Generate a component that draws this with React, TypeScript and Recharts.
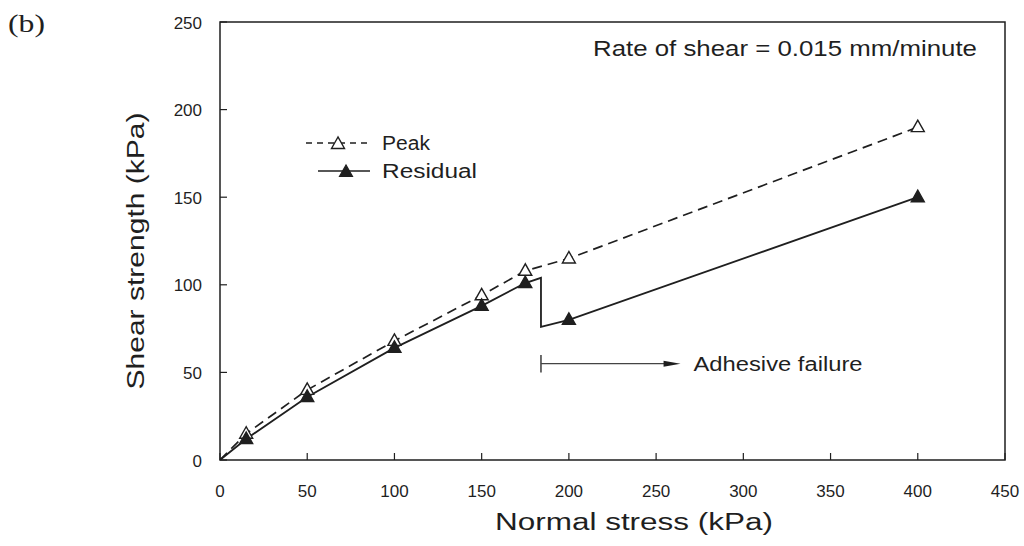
import { Line, LineChart, ReferenceArea, ReferenceLine, XAxis, YAxis } from "recharts";

// Normal stress (kPa) vs shear strength (kPa)
const peakStress = [0, 15, 50, 100, 150, 175, 200, 400];
const peakStrength = [0, 15, 40, 68, 94, 108, 115, 190];
const peakMeasured = [false, true, true, true, true, true, true, true];

// residual curve drops at the adhesive failure point (~184 kPa)
const residualStress = [0, 15, 50, 100, 150, 175, 184, 184, 200, 400];
const residualStrength = [0, 12, 36, 64, 88, 101, 104, 76, 80, 150];
const residualMeasured = [false, true, true, true, true, true, false, false, true, true];

const xTicks = [0, 50, 100, 150, 200, 250, 300, 350, 400, 450];
const yTicks = [0, 50, 100, 150, 200, 250];

const failureStart = 184;
const failureEnd = 264;
const failureLevel = 55;

const INK = "#1f1f1f";
const FONT = '"Liberation Sans", Arial, sans-serif';

const peakData = peakStress.map((x, i) => ({ x, y: peakStrength[i], m: peakMeasured[i] }));
const residualData = residualStress.map((x, i) => ({
  x,
  y: residualStrength[i],
  m: residualMeasured[i],
}));

function triangle(cx: number, cy: number) {
  return `M${cx},${cy - 7} L${cx - 6.5},${cy + 4.5} L${cx + 6.5},${cy + 4.5} Z`;
}

const makeDot = (open: boolean) => (props: any) => {
  const { cx, cy, payload, index } = props;
  if (!payload?.m) return <g key={`d-${index}`} />;
  return (
    <path
      key={`d-${index}`}
      d={triangle(cx, cy)}
      fill={open ? "#fff" : INK}
      stroke={INK}
      strokeWidth={1.4}
    />
  );
};

const tickText = { fontSize: 17, fontFamily: FONT, fill: INK };

function BottomTick({ x, y, payload }: any) {
  return (
    <g>
      <line x1={x} y1={y} x2={x} y2={y - 7} stroke={INK} strokeWidth={1.2} />
      <text x={x} y={y + 31} textAnchor="middle" dominantBaseline="central" {...tickText}>
        {payload.value}
      </text>
    </g>
  );
}

function LeftTick({ x, y, payload }: any) {
  return (
    <g>
      <line x1={x} y1={y} x2={x + 7} y2={y} stroke={INK} strokeWidth={1.2} />
      <text x={x - 18} y={y + 1} textAnchor="end" dominantBaseline="central" {...tickText}>
        {payload.value}
      </text>
    </g>
  );
}

function TopTick({ x, y }: any) {
  return <line x1={x} y1={y} x2={x} y2={y + 7} stroke={INK} strokeWidth={1.2} />;
}

function RightTick({ x, y }: any) {
  return <line x1={x} y1={y} x2={x - 7} y2={y} stroke={INK} strokeWidth={1.2} />;
}

function FailureArrow({ x1, y1, x2 }: any) {
  return (
    <g>
      <line x1={x1} y1={y1} x2={x2 - 10} y2={y1} stroke="#444" strokeWidth={1.2} />
      <path d={`M${x2},${y1} L${x2 - 17},${y1 - 3} L${x2 - 17},${y1 + 3} Z`} fill={INK} />
      <text
        x={x2 + 13}
        y={y1}
        dominantBaseline="central"
        fontSize={20}
        fontFamily={FONT}
        fill={INK}
        textLength={169}
        lengthAdjust="spacingAndGlyphs"
      >
        Adhesive failure
      </text>
    </g>
  );
}

export default function App() {
  return (
    <div style={{ position: "absolute", left: 0, top: 0, width: 1024, height: 546, background: "#fff" }}>
      <LineChart
        width={1024}
        height={546}
        margin={{ top: 22, right: 19, bottom: 0, left: 0 }}
      >
        <XAxis
          dataKey="x"
          type="number"
          domain={[0, 450]}
          ticks={xTicks}
          interval={0}
          height={86}
          axisLine={false}
          tickLine={false}
          tickSize={0}
          tickMargin={0}
          tick={<BottomTick />}
          allowDataOverflow
        />
        <XAxis
          xAxisId="top"
          orientation="top"
          type="number"
          domain={[0, 450]}
          ticks={xTicks}
          interval={0}
          height={0}
          axisLine={false}
          tickLine={false}
          tickSize={0}
          tickMargin={0}
          tick={<TopTick />}
          allowDataOverflow
        />
        <YAxis
          type="number"
          domain={[0, 250]}
          ticks={yTicks}
          interval={0}
          width={220}
          axisLine={false}
          tickLine={false}
          tickSize={0}
          tickMargin={0}
          tick={<LeftTick />}
          allowDataOverflow
        />
        <YAxis
          yAxisId="right"
          orientation="right"
          type="number"
          domain={[0, 250]}
          ticks={yTicks}
          interval={0}
          width={0}
          axisLine={false}
          tickLine={false}
          tickSize={0}
          tickMargin={0}
          tick={<RightTick />}
          allowDataOverflow
        />
        <ReferenceArea
          x1={0}
          x2={450}
          y1={0}
          y2={250}
          fill="none"
          fillOpacity={0}
          stroke={INK}
          strokeWidth={1.5}
          ifOverflow="visible"
        />
        <ReferenceLine
          segment={[
            { x: failureStart, y: failureLevel - 5 },
            { x: failureStart, y: failureLevel + 5 },
          ]}
          stroke={INK}
          strokeWidth={1.3}
        />
        <ReferenceLine
          segment={[
            { x: failureStart, y: failureLevel },
            { x: failureEnd, y: failureLevel },
          ]}
          shape={FailureArrow}
        />
        <Line
          data={peakData}
          dataKey="y"
          type="linear"
          stroke={INK}
          strokeWidth={1.7}
          strokeDasharray="10 6"
          dot={makeDot(true)}
          activeDot={false}
          isAnimationActive={false}
        />
        <Line
          data={residualData}
          dataKey="y"
          type="linear"
          stroke={INK}
          strokeWidth={1.8}
          dot={makeDot(false)}
          activeDot={false}
          isAnimationActive={false}
        />
      </LineChart>
      <svg
        width={1024}
        height={546}
        style={{ position: "absolute", left: 0, top: 0, pointerEvents: "none" }}
        fontFamily={FONT}
        fill={INK}
      >
        <text x={8} y={23} dominantBaseline="central" fontSize={26} fontFamily='"Liberation Serif", serif' textLength={37} lengthAdjust="spacingAndGlyphs">
          (b)
        </text>
        <text x={593} y={48} dominantBaseline="central" fontSize={22} textLength={384} lengthAdjust="spacingAndGlyphs">
          Rate of shear = 0.015 mm/minute
        </text>
        <line x1={306} y1={143} x2={370} y2={143} stroke={INK} strokeWidth={1.4} strokeDasharray="6 5" />
        <path d={triangle(338, 144)} fill="#fff" stroke={INK} strokeWidth={1.4} />
        <text x={382} y={143} dominantBaseline="central" fontSize={20} textLength={48} lengthAdjust="spacingAndGlyphs">
          Peak
        </text>
        <line x1={318} y1={171} x2={370} y2={171} stroke={INK} strokeWidth={1.4} />
        <path d={triangle(346, 172)} fill={INK} stroke={INK} strokeWidth={1.2} />
        <text x={382} y={171} dominantBaseline="central" fontSize={20} textLength={95} lengthAdjust="spacingAndGlyphs">
          Residual
        </text>
        <text x={634} y={522} textAnchor="middle" dominantBaseline="central" fontSize={23} textLength={278} lengthAdjust="spacingAndGlyphs">
          Normal stress (kPa)
        </text>
        <text
          x={136}
          y={251}
          textAnchor="middle"
          dominantBaseline="central"
          fontSize={23}
          textLength={277}
          lengthAdjust="spacingAndGlyphs"
          transform="rotate(-90 136 251)"
        >
          Shear strength (kPa)
        </text>
      </svg>
    </div>
  );
}
